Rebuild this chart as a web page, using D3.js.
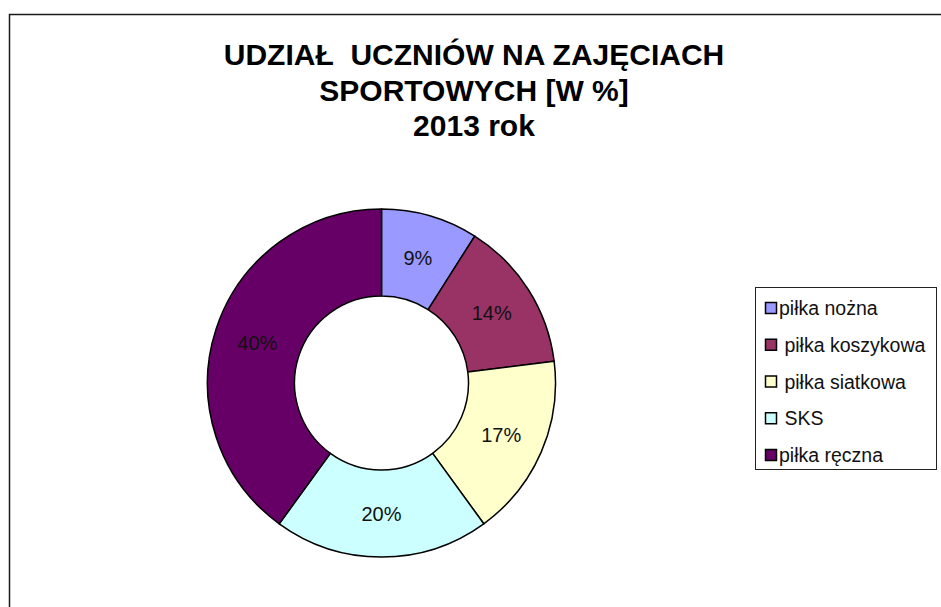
<!DOCTYPE html>
<html>
<head>
<meta charset="utf-8">
<script src="https://cdn.jsdelivr.net/npm/d3@7"></script>
<style>
  html, body { margin: 0; padding: 0; background: #fff; }
  svg { display: block; }
  text { font-family: "Liberation Sans", Arial, sans-serif; }
</style>
</head>
<body>
<svg id="chart" width="941" height="607"></svg>
<script>
// ------------------------------------------------------------
// Donut: share of pupils in sports activities, 2013
// ------------------------------------------------------------

const CATEGORIES = ['piłka nożna', ' piłka koszykowa', ' piłka siatkowa', ' SKS', 'piłka ręczna'];
const VALUES = [9, 14, 17, 20, 40];
const COLORS = ['#9999ff', '#993366', '#ffffcc', '#ccffff', '#660066'];
const TITLE_LINES = ['UDZIAŁ  UCZNIÓW NA ZAJĘCIACH', 'SPORTOWYCH [W %]', '2013 rok'];

const W = 941, H = 607;
const svg = d3.select('#chart');

// outer frame of the chart area (runs off the right and bottom edges)
svg.append('rect')
  .attr('x', 9.5).attr('y', 14.5)
  .attr('width', W + 20).attr('height', H + 20)
  .attr('fill', '#fff')
  .attr('stroke', '#1a1a1a')
  .attr('stroke-width', 1.5);

// title
const title = svg.append('text')
  .attr('text-anchor', 'middle')
  .attr('font-size', '30px')
  .attr('font-weight', 'bold')
  .attr('fill', '#000')
  .style('white-space', 'pre');
TITLE_LINES.forEach((t, i) => {
  title.append('tspan')
    .attr('x', 474)
    .attr('y', 65 + i * 35.5)
    .text(t);
});

// donut
const cx = 381.5, cy = 383;
const outerR = 174, innerR = 87;

const data = CATEGORIES.map((c, i) => ({ cat: c, value: VALUES[i] }));
const color = d3.scaleOrdinal().domain(CATEGORIES).range(COLORS);

const pie = d3.pie().value(d => d.value).sort(null);
const arc = d3.arc().innerRadius(innerR).outerRadius(outerR);
const arcs = pie(data);
const total = d3.sum(VALUES);

const g = svg.append('g').attr('transform', `translate(${cx},${cy})`);

g.selectAll('path')
  .data(arcs).join('path')
    .attr('d', arc)
    .attr('fill', d => color(d.data.cat))
    .attr('stroke', '#000')
    .attr('stroke-width', 1.5)
    .attr('stroke-linejoin', 'round');

g.selectAll('text.lbl')
  .data(arcs).join('text')
    .attr('class', 'lbl')
    .attr('transform', d => `translate(${arc.centroid(d)})`)
    .attr('text-anchor', 'middle')
    .attr('dy', '0.36em')
    .attr('font-size', '20px')
    .attr('fill', '#111')
    .text(d => Math.round(d.data.value / total * 100) + '%');

// legend
const legX = 755.5, legY = 287.5, legW = 181, legH = 182;
const legend = svg.append('g');
legend.append('rect')
  .attr('x', legX).attr('y', legY)
  .attr('width', legW).attr('height', legH)
  .attr('fill', '#fff')
  .attr('stroke', '#222')
  .attr('stroke-width', 1);

const ly = d3.scalePoint().domain(CATEGORIES).range([308, 455]);

const item = legend.selectAll('g.item')
  .data(CATEGORIES).join('g')
    .attr('class', 'item')
    .attr('transform', d => `translate(0,${ly(d)})`);

item.append('rect')
  .attr('x', 765.5).attr('y', -5.5)
  .attr('width', 11).attr('height', 11)
  .attr('fill', d => color(d))
  .attr('stroke', '#000')
  .attr('stroke-width', 1.5);

item.append('text')
  .attr('x', 779)
  .attr('dy', '0.36em')
  .attr('font-size', '19.5px')
  .attr('fill', '#111')
  .style('white-space', 'pre')
  .text(d => d);
</script>
</body>
</html>
